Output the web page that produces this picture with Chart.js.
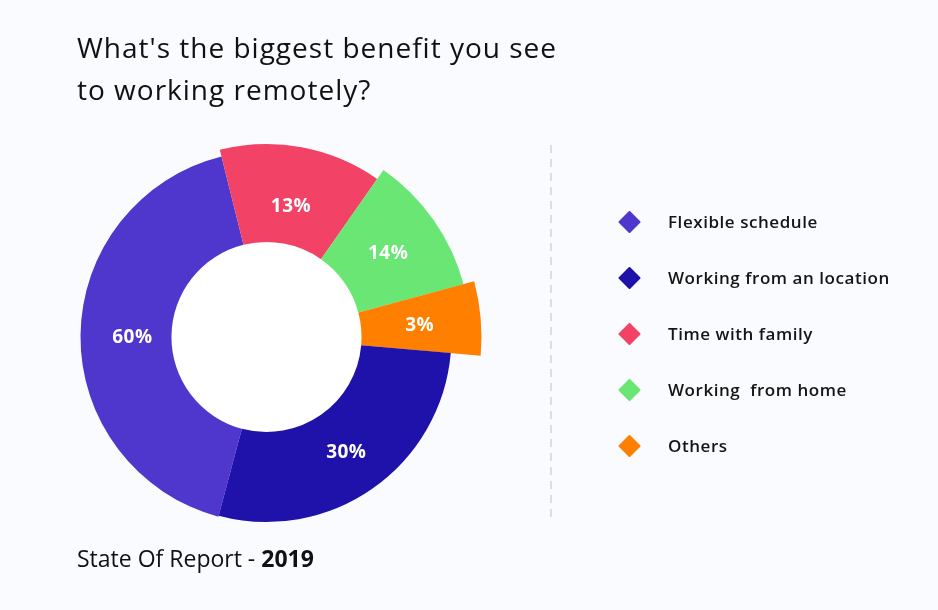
<!DOCTYPE html>
<html>
<head>
<meta charset="utf-8">
<script src="https://cdn.jsdelivr.net/npm/chart.js@4"></script>
<style>
    html, body { margin: 0; padding: 0; background: #FAFBFE; }
    #wrap { position: relative; width: 938px; height: 610px; overflow: hidden; }
    #benefitChart { position: absolute; left: 0; top: 0; }
    .title {
        position: absolute; left: 77px; top: 26px;
        font-family: "Open Sans", sans-serif; font-size: 28px; line-height: 42px;
        letter-spacing: 1px; color: #111; font-weight: 400;
    }
    .footer {
        position: absolute; left: 77px; top: 542px;
        font-family: "Open Sans", sans-serif; font-size: 23px; color: #111;
    }
    .footer b { font-weight: 700; }
</style>
</head>
<body>
<div id="wrap">
    <canvas id="benefitChart" width="938" height="610"></canvas>
    <div class="title">What's the biggest benefit you see<br>to working remotely?</div>
    <div class="footer">State Of Report - <b>2019</b></div>
</div>
<script>
// Данные диаграммы (по часовой стрелке, начиная с фиолетового сектора)
const sliceLabels = ['Flexible schedule', 'Time with family', 'Working  from home', 'Others', 'Working from an location'];
const sliceShare = [151, 49, 40, 20, 100];          // размер сектора в градусах
const sliceText = ['60%', '13%', '14%', '3%', '30%']; // подписи на секторах
const legendOrder = ['Flexible schedule', 'Working from an location', 'Time with family', 'Working  from home', 'Others'];

// Стили
const sliceColors = ['#4F36CC', '#F24367', '#69E673', '#FF7F00', '#1E12AA'];
const sliceRadius = [186, 193, 204, 215, 185];
const labelDepth = [0.43, 0.40, 0.49, 0.49, 0.49]; // где по толщине кольца стоит подпись
const FONT = '"Open Sans", sans-serif';

// разные внешние радиусы секторов
const radiusPlugin = {
    id: 'sliceRadius',
    afterDatasetUpdate(chart, args) {
        args.meta.data.forEach((arc, i) => {
            arc.outerRadius = sliceRadius[i];
        });
    }
};

// белая середина + подписи процентов
const holePlugin = {
    id: 'hole',
    beforeDatasetsDraw(chart) {
        const arc = chart.getDatasetMeta(0).data[0];
        if (!arc) return;
        const ctx = chart.ctx;
        ctx.save();
        ctx.fillStyle = '#FFFFFF';
        ctx.beginPath();
        ctx.arc(arc.x, arc.y, arc.innerRadius, 0, Math.PI * 2);
        ctx.fill();
        ctx.restore();
    },
    afterDatasetsDraw(chart) {
        const ctx = chart.ctx;
        ctx.save();
        ctx.fillStyle = '#FFFFFF';
        ctx.font = `bold 19px ${FONT}`;
        ctx.letterSpacing = '0.5px';
        ctx.textAlign = 'center';
        ctx.textBaseline = 'alphabetic';
        chart.getDatasetMeta(0).data.forEach((arc, i) => {
            const mid = (arc.startAngle + arc.endAngle) / 2;
            const r = arc.innerRadius + (arc.outerRadius - arc.innerRadius) * labelDepth[i];
            const x = arc.x + Math.cos(mid) * r;
            const y = arc.y + Math.sin(mid) * r;
            ctx.fillText(sliceText[i], x, y + 7);
        });
        ctx.restore();
    }
};

// легенда справа и пунктирный разделитель
const sideLegendPlugin = {
    id: 'sideLegend',
    afterDraw(chart) {
        const ctx = chart.ctx;
        ctx.save();
        ctx.strokeStyle = '#DCDDE2';
        ctx.lineWidth = 2;
        ctx.setLineDash([8, 6]);
        ctx.beginPath();
        ctx.moveTo(551, 145);
        ctx.lineTo(551, 518);
        ctx.stroke();
        ctx.setLineDash([]);

        legendOrder.forEach((label, k) => {
            const idx = sliceLabels.indexOf(label);
            const y = 222 + k * 56;
            ctx.fillStyle = sliceColors[idx];
            ctx.strokeStyle = sliceColors[idx];
            ctx.lineWidth = 2;
            ctx.lineJoin = 'round';
            Chart.helpers.drawPoint(ctx, { pointStyle: 'rectRot', radius: 10, borderWidth: 2 }, 629.5, y);
            ctx.fillStyle = '#151515';
            ctx.font = `600 17px ${FONT}`;
            ctx.letterSpacing = '0.55px';
            ctx.textAlign = 'left';
            ctx.textBaseline = 'alphabetic';
            ctx.fillText(label, 668, y + 6);
        });
        ctx.restore();
    }
};

const ctx = document.getElementById('benefitChart').getContext('2d');
const benefitChart = new Chart(ctx, {
    type: 'doughnut',
    data: {
        labels: sliceLabels,
        datasets: [{
            data: sliceShare,
            backgroundColor: sliceColors,
            borderWidth: 0,
            clip: false
        }]
    },
    options: {
        responsive: false,
        animation: false,
        rotation: 195,
        radius: 186,
        cutout: '51.1%',
        layout: { padding: { left: 0, right: 405, top: 64, bottom: 0 } },
        plugins: {
            legend: { display: false },
            tooltip: { enabled: false }
        }
    },
    plugins: [radiusPlugin, holePlugin, sideLegendPlugin]
});
</script>
</body>
</html>
